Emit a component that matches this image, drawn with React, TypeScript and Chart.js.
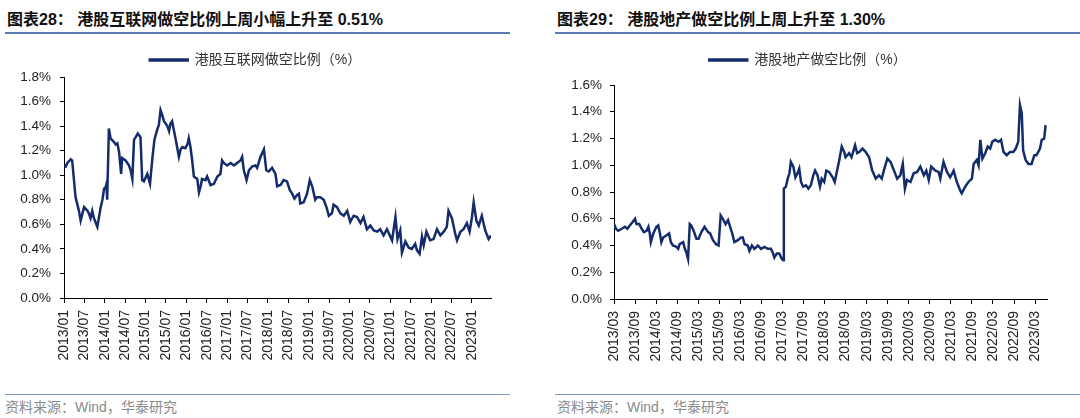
import React, { useEffect, useRef } from "react";
import { Chart, registerables } from "chart.js";

Chart.register(...registerables);

// ---------- Left chart: 港股互联网做空比例 (x = months since 2013/01) ----------
const leftTickLabels = [
  "2013/01", "2013/07", "2014/01", "2014/07", "2015/01", "2015/07", "2016/01",
  "2016/07", "2017/01", "2017/07", "2018/01", "2018/07", "2019/01", "2019/07",
  "2020/01", "2020/07", "2021/01", "2021/07", "2022/01", "2022/07", "2023/01",
];
const leftMonthIndex = [
  0, 0.5, 1.0, 2.0, 2.4, 3.4, 4.4, 4.9, 5.9, 6.9,
  7.3, 7.8, 8.3, 8.8, 9.8, 10.8, 11.3, 11.8, 12.2, 12.5,
  12.7, 13.2, 13.7, 14.7, 15.2, 15.7, 16.2, 16.8, 17.1, 18.1,
  19.1, 19.6, 20.1, 20.6, 21.1, 21.7, 22.5, 23.0, 23.5, 24.5,
  25.3, 26.0, 26.6, 27.4, 27.9, 28.4, 28.9, 29.4, 30.4, 30.9,
  31.3, 31.8, 32.3, 33.0, 33.8, 34.3, 34.8, 35.7, 36.4, 36.7,
  37.2, 37.7, 38.2, 39.2, 39.7, 40.2, 40.6, 41.6, 42.1, 43.1,
  44.1, 45.1, 46.0, 46.5, 47.0, 48.0, 49.0, 50.0, 50.9, 51.9,
  52.4, 52.9, 53.7, 54.4, 55.3, 56.3, 56.8, 57.8, 58.8, 59.5,
  60.2, 61.2, 62.2, 62.7, 63.7, 64.6, 65.6, 66.4, 67.1, 67.8,
  68.6, 69.1, 69.5, 70.5, 71.5, 72.3, 73.0, 73.9, 74.4, 75.4,
  76.4, 77.2, 77.9, 78.8, 79.3, 80.3, 81.3, 82.3, 83.3, 84.2,
  85.2, 86.2, 87.2, 88.1, 89.1, 90.1, 91.1, 92.1, 93.0, 94.0,
  95.0, 96.0, 96.5, 97.5, 98.1, 98.9, 99.4, 100.4, 101.4, 102.3,
  103.3, 103.8, 104.6, 105.3, 105.8, 106.6, 107.7, 108.7, 109.7, 110.7,
  111.7, 112.6, 113.1, 114.1, 115.1, 115.6, 116.6, 117.5, 118.5, 119.3,
  120.0, 120.5, 121.3, 122.0, 122.9, 123.9, 124.9, 125.6,
];
const leftShortRatio = [
  1.075, 1.07, 1.10, 1.13, 1.12, 0.82, 0.71, 0.63, 0.74, 0.71,
  0.69, 0.65, 0.71, 0.65, 0.58, 0.74, 0.80, 0.89, 0.90, 0.93,
  0.80, 1.38, 1.30, 1.27, 1.25, 1.26, 1.19, 1.01, 1.14, 1.12,
  1.08, 1.04, 0.97, 1.29, 1.31, 1.34, 1.31, 0.96, 0.95, 1.01,
  0.93, 1.14, 1.29, 1.37, 1.41, 1.53, 1.49, 1.44, 1.40, 1.36,
  1.42, 1.44, 1.37, 1.27, 1.15, 1.21, 1.23, 1.22, 1.26, 1.30,
  1.23, 1.12, 0.99, 0.97, 0.86, 0.91, 0.97, 0.96, 0.99, 0.92,
  0.93, 0.99, 1.01, 1.12, 1.10, 1.08, 1.10, 1.08, 1.10, 1.12,
  1.15, 1.04, 0.96, 1.04, 1.07, 1.08, 1.06, 1.15, 1.21, 1.04,
  1.03, 1.06, 1.01, 0.91, 0.92, 0.96, 0.95, 0.88, 0.85, 0.81,
  0.84, 0.85, 0.77, 0.78, 0.85, 0.96, 0.91, 0.80, 0.82, 0.82,
  0.80, 0.74, 0.67, 0.69, 0.76, 0.74, 0.69, 0.67, 0.71, 0.62,
  0.67, 0.66, 0.61, 0.66, 0.56, 0.59, 0.55, 0.54, 0.56, 0.51,
  0.56, 0.50, 0.47, 0.66, 0.48, 0.55, 0.37, 0.46, 0.41, 0.40,
  0.44, 0.39, 0.36, 0.50, 0.43, 0.54, 0.47, 0.48, 0.56, 0.51,
  0.54, 0.58, 0.71, 0.65, 0.52, 0.47, 0.54, 0.56, 0.61, 0.54,
  0.66, 0.78, 0.63, 0.59, 0.67, 0.55, 0.48, 0.51,
];

// ---------- Right chart: 港股地产做空比例 (x = months since 2013/03) ----------
const rightTickLabels = [
  "2013/03", "2013/09", "2014/03", "2014/09", "2015/03", "2015/09", "2016/03",
  "2016/09", "2017/03", "2017/09", "2018/03", "2018/09", "2019/03", "2019/09",
  "2020/03", "2020/09", "2021/03", "2021/09", "2022/03", "2022/09", "2023/03",
];
const rightMonthIndex = [
  0, 0.6, 1.2, 2.2, 3.1, 3.8, 4.5, 5.3, 6.0, 6.4,
  7.2, 7.9, 8.5, 9.3, 9.8, 10.2, 10.5, 11.2, 12.1, 12.6,
  13.1, 13.5, 14.0, 14.9, 15.7, 16.2, 16.8, 17.8, 18.3, 18.7,
  19.7, 20.2, 20.6, 21.1, 21.6, 22.0, 22.7, 23.5, 24.1, 24.9,
  25.8, 26.8, 27.4, 28.2, 29.1, 29.8, 30.4, 31.0, 31.8, 32.5,
  33.1, 33.7, 34.3, 35.3, 36.2, 36.7, 37.2, 38.1, 38.6, 39.3,
  40.0, 41.0, 41.9, 42.9, 43.8, 44.7, 45.2, 45.7, 46.4, 47.1,
  47.8, 48.2, 48.4, 49.0, 49.5, 50.0, 50.4, 51.1, 51.7, 52.3,
  52.8, 53.3, 53.9, 54.7, 55.4, 56.1, 56.8, 57.3, 58.0, 58.7,
  59.2, 59.9, 60.5, 61.3, 62.3, 62.9, 63.7, 64.1, 64.9, 65.6,
  66.0, 67.0, 67.7, 68.7, 69.3, 70.0, 70.8, 71.7, 72.7, 73.6,
  74.6, 75.5, 76.3, 76.9, 77.9, 78.8, 79.8, 80.7, 81.6, 82.3,
  82.9, 83.5, 84.5, 85.4, 86.4, 87.3, 88.3, 89.0, 89.7, 90.4,
  91.6, 92.5, 93.0, 93.9, 94.9, 95.8, 96.8, 97.7, 98.7, 99.1,
  100.1, 101.0, 102.0, 102.5, 103.4, 103.9, 104.4, 105.0, 105.8, 106.5,
  107.2, 107.8, 108.6, 109.6, 110.3, 111.0, 111.9, 112.9, 113.8, 114.5,
  115.2, 115.7, 116.2, 116.6, 117.3, 118.1, 119.0, 119.8, 120.4, 121.4,
  121.9, 122.6, 123.0,
];
const rightShortRatio = [
  0.56, 0.525, 0.51, 0.525, 0.54, 0.525, 0.55, 0.575, 0.60, 0.56,
  0.56, 0.525, 0.50, 0.51, 0.54, 0.49, 0.425, 0.49, 0.54, 0.55,
  0.49, 0.425, 0.46, 0.475, 0.49, 0.425, 0.40, 0.39, 0.375, 0.41,
  0.425, 0.375, 0.35, 0.30, 0.56, 0.55, 0.51, 0.45, 0.45, 0.50,
  0.54, 0.50, 0.49, 0.44, 0.41, 0.40, 0.625, 0.60, 0.56, 0.59,
  0.54, 0.49, 0.425, 0.44, 0.46, 0.46, 0.41, 0.40, 0.36, 0.40,
  0.375, 0.40, 0.375, 0.39, 0.375, 0.375, 0.35, 0.31, 0.34, 0.34,
  0.30, 0.29, 0.825, 0.84, 0.90, 0.94, 1.025, 0.99, 0.91, 0.94,
  0.975, 0.875, 0.84, 0.85, 0.825, 0.85, 0.925, 0.96, 0.925, 0.84,
  0.90, 0.875, 0.96, 0.95, 0.91, 0.875, 0.975, 1.025, 1.14, 1.10,
  1.06, 1.09, 1.06, 1.15, 1.09, 1.10, 1.125, 1.10, 1.06, 0.96,
  0.90, 0.925, 0.90, 0.96, 1.05, 1.025, 0.96, 0.90, 0.925, 1.01,
  0.825, 0.89, 0.875, 0.94, 0.95, 0.99, 0.925, 0.96, 0.89, 0.99,
  0.96, 0.95, 0.90, 1.025, 0.95, 0.91, 0.96, 0.875, 0.81, 0.79,
  0.84, 0.875, 0.90, 1.01, 1.04, 1.00, 1.19, 1.05, 1.09, 1.14,
  1.125, 1.175, 1.19, 1.175, 1.19, 1.10, 1.075, 1.10, 1.10, 1.125,
  1.175, 1.45, 1.39, 1.11, 1.04, 1.01, 1.01, 1.075, 1.075, 1.125,
  1.19, 1.20, 1.30,
];

const NAVY = "#142c6b";
const LATIN = '"Liberation Sans", Arial, sans-serif';
const CJK = '"Liberation Sans", Arial, "Noto Sans CJK SC", sans-serif';

type ChartProps = {
  months: number[];
  values: number[];
  tickLabels: string[];
  label: string;
  xMax: number;
  yMax: number;
  left: number;
  top: number;
  width: number;
  height: number;
  padRight: number;
  yAxisWidth: number;
  yTickPad: number;
  legendExtra: number;
  legendShift: number;
};

function LineChartCanvas(p: ChartProps) {
  const ref = useRef<HTMLCanvasElement | null>(null);
  useEffect(() => {
    if (!ref.current) return;
    const legendTweak = {
      id: "legendTweak",
      beforeInit(chart: any) {
        const lg = chart.legend;
        if (!lg) return;
        const orig = lg.fit;
        lg.fit = function () {
          orig.call(lg);
          lg.height += p.legendExtra;
        };
      },
      afterLayout(chart: any) {
        const lg = chart.legend;
        if (!lg) return;
        lg.left += p.legendShift;
        lg.right += p.legendShift;
      },
    };
    const n = Math.min(p.months.length, p.values.length);
    const pts = [];
    for (let i = 0; i < n; i++) pts.push({ x: p.months[i], y: p.values[i] });
    const chart = new Chart(ref.current, {
      type: "line",
      data: {
        datasets: [
          {
            label: p.label,
            data: pts,
            borderColor: NAVY,
            backgroundColor: NAVY,
            borderWidth: 2.5,
            pointRadius: 0,
            tension: 0,
          },
        ],
      },
      options: {
        responsive: false,
        animation: false,
        layout: { padding: { left: 0, right: p.padRight, top: 0, bottom: 0 } },
        plugins: {
          legend: {
            display: true,
            position: "top",
            labels: {
              boxWidth: 38,
              boxHeight: 1,
              padding: 10,
              color: "#333333",
              font: { family: CJK, size: 14 },
            },
          },
          tooltip: { enabled: false },
        },
        scales: {
          x: {
            type: "linear",
            min: 0,
            max: p.xMax,
            afterFit: (s: any) => {
              s.height = 70;
            },
            grid: { drawOnChartArea: false, drawTicks: true, tickLength: 5, color: "#000000" },
            border: { display: true, color: "#000000", width: 1 },
            ticks: {
              stepSize: 6,
              autoSkip: false,
              includeBounds: false,
              minRotation: 90,
              maxRotation: 90,
              padding: 7,
              color: "#222222",
              font: { family: LATIN, size: 14 },
              callback: (v: any) => {
                const k = Math.round(Number(v) / 6);
                return Math.abs(Number(v) - k * 6) < 0.01 && p.tickLabels[k] ? p.tickLabels[k] : "";
              },
            },
          },
          y: {
            type: "linear",
            min: 0,
            max: p.yMax,
            afterFit: (s: any) => {
              s.width = p.yAxisWidth;
            },
            grid: { drawOnChartArea: false, drawTicks: true, tickLength: 4, color: "#000000" },
            border: { display: true, color: "#000000", width: 1 },
            ticks: {
              stepSize: 0.2,
              padding: p.yTickPad,
              color: "#222222",
              font: { family: LATIN, size: 13.5 },
              callback: (v: any) => Number(v).toFixed(1) + "%",
            },
          },
        },
      },
      plugins: [legendTweak as any],
    });
    return () => chart.destroy();
  }, []);
  return (
    <canvas
      ref={ref}
      width={p.width}
      height={p.height}
      style={{ position: "absolute", left: p.left, top: p.top, width: p.width, height: p.height }}
    />
  );
}

const titleStyle: React.CSSProperties = {
  position: "absolute",
  top: 9,
  fontSize: 16,
  lineHeight: "22px",
  fontWeight: 700,
  color: "#111111",
  whiteSpace: "nowrap",
  fontFamily: CJK,
};
const footStyle: React.CSSProperties = {
  position: "absolute",
  top: 398,
  fontSize: 14,
  lineHeight: "18px",
  color: "#8a8a8a",
  whiteSpace: "nowrap",
  fontFamily: CJK,
};

export default function App() {
  return (
    <div
      style={{
        position: "absolute",
        left: 0,
        top: 0,
        width: 1080,
        height: 418,
        background: "#ffffff",
        overflow: "hidden",
      }}
    >
      <div style={{ ...titleStyle, left: 7 }}>图表28： 港股互联网做空比例上周小幅上升至 0.51%</div>
      <div style={{ ...titleStyle, left: 557 }}>图表29： 港股地产做空比例上周上升至 1.30%</div>
      <div style={{ position: "absolute", left: 5, top: 32, width: 505, height: 1.5, background: "#5a7bb0" }} />
      <div style={{ position: "absolute", left: 555, top: 32, width: 525, height: 1.5, background: "#5a7bb0" }} />

      <LineChartCanvas
        months={leftMonthIndex}
        values={leftShortRatio}
        tickLabels={leftTickLabels}
        label="港股互联网做空比例（%）"
        xMax={125.6}
        yMax={1.8}
        left={0}
        top={43}
        width={515}
        height={325}
        padRight={24}
        yAxisWidth={64}
        yTickPad={9}
        legendExtra={0}
        legendShift={10}
      />
      <LineChartCanvas
        months={rightMonthIndex}
        values={rightShortRatio}
        tickLabels={rightTickLabels}
        label="港股地产做空比例（%）"
        xMax={123.4}
        yMax={1.6}
        left={548}
        top={43}
        width={532}
        height={326}
        padRight={33}
        yAxisWidth={66}
        yTickPad={8}
        legendExtra={8}
        legendShift={10.5}
      />

      <div style={{ position: "absolute", left: 5, top: 393.5, width: 505, height: 1, background: "#7f9cc8" }} />
      <div style={{ position: "absolute", left: 555, top: 393.5, width: 525, height: 1, background: "#7f9cc8" }} />
      <div style={{ ...footStyle, left: 5 }}>资料来源：Wind，华泰研究</div>
      <div style={{ ...footStyle, left: 557 }}>资料来源：Wind，华泰研究</div>
    </div>
  );
}
